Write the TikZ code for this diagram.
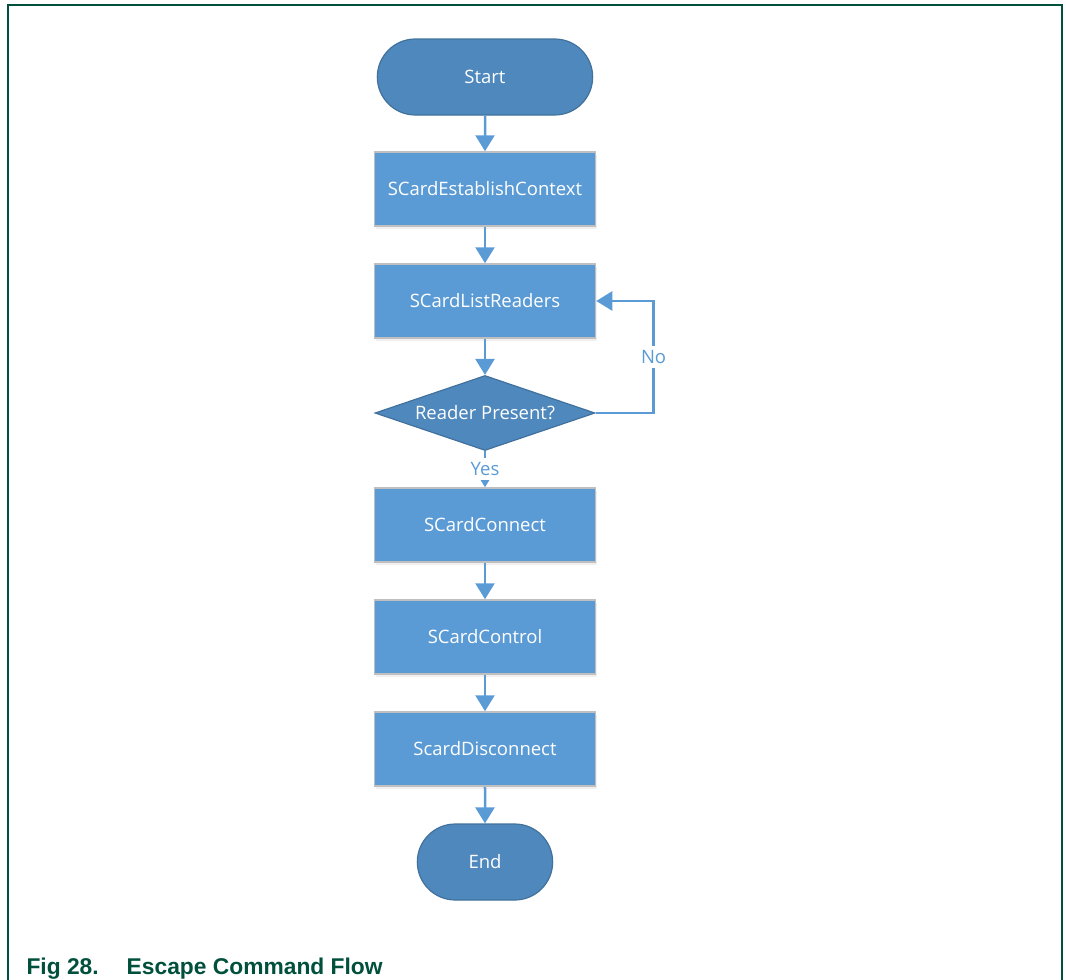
\documentclass[tikz,border=0pt]{standalone}
\usepackage{fontspec}
\setmainfont{Open Sans}
\newfontfamily\capfont{Liberation Sans}
\usepackage{tikz}
\usetikzlibrary{shapes,positioning,arrows.meta,shadows}

\definecolor{BoxBlue}{HTML}{5B9BD5}
\definecolor{BoxEdge}{HTML}{BFBFBF}
\definecolor{TermBlue}{HTML}{4E88BD}
\definecolor{TermEdge}{HTML}{41719C}
\definecolor{NxpGreen}{RGB}{0,80,60}

\begin{document}
\begin{tikzpicture}[
    txt/.style={font=\fontsize{18.5}{22}\selectfont},
    term/.style={txt,rounded rectangle,draw=TermEdge,line width=1.2pt,fill=TermBlue,text=white,
                 minimum height=76pt,minimum width=222pt},
    stepbox/.style={txt,draw=BoxEdge,line width=1.5pt,fill=BoxBlue,text=white,
                 minimum height=74pt,minimum width=221pt,
                 drop shadow={opacity=0.12,shadow xshift=2pt,shadow yshift=-3pt}},
    decide/.style={txt,diamond,aspect=2.93,draw=TermEdge,line width=1.2pt,fill=TermBlue,text=white,
                 inner sep=0pt,minimum height=75pt,minimum width=220pt},
    flow/.style={draw=BoxBlue,line width=2.5pt,-{Triangle[width=19pt,length=16pt]}},
    answer/.style={txt,fill=white,text=BoxBlue,inner ysep=4pt}
  ]
  \useasboundingbox (-485pt,-903pt) rectangle (581pt,77pt);

  % page frame, open at the bottom
  \draw[NxpGreen,line width=1.5pt] (-477pt,-903pt) |- (577pt,72pt) -- (577pt,-903pt);

  \node[term]                    (start)      {Start};
  \node[stepbox,yshift=-112pt]   (establish)  {SCardEstablishContext};
  \node[stepbox,yshift=-224pt]   (list)       {SCardListReaders};
  \node[decide,yshift=-336pt]    (present)    {Reader Present?};
  \node[stepbox,yshift=-448pt]   (connect)    {SCardConnect};
  \node[stepbox,yshift=-560pt]   (control)    {SCardControl};
  \node[stepbox,yshift=-672pt]   (disconnect) {ScardDisconnect};
  \node[term,minimum width=142pt,yshift=-785pt] (end) {End};

  \draw[flow] (start) -- (establish);
  \draw[flow] (establish) -- (list);
  \draw[flow] (list) -- (present);
  \draw[flow] (present) -- node[answer,pos=0.5]{Yes} (connect);
  \draw[flow] (connect) -- (control);
  \draw[flow] (control) -- (disconnect);
  \draw[flow] (disconnect) -- (end);
  \draw[flow] (present.east) -- ++(58pt,0) |- node[answer,pos=0.25]{No} (list.east);

  \node[anchor=base west,text=NxpGreen,font=\capfont\bfseries\fontsize{22.8}{27}\selectfont]
    (caption) at (-462pt,-897pt) {Fig 28.\hspace{28pt}Escape Command Flow};
\end{tikzpicture}
\end{document}
